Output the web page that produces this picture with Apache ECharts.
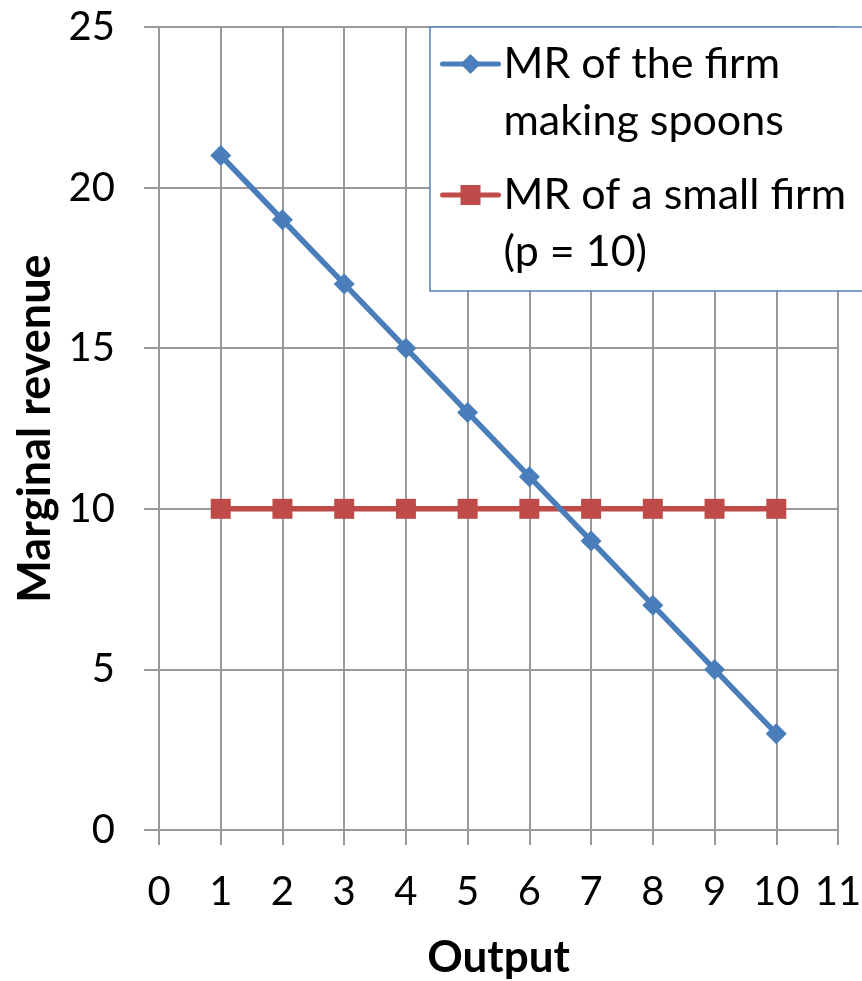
<!DOCTYPE html>
<html>
<head>
<meta charset="utf-8">
<script src="https://cdn.jsdelivr.net/npm/echarts@6/dist/echarts.min.js"></script>
<style>
html,body{margin:0;padding:0;background:#fff;}
#main{width:862px;height:981px;}
</style>
</head>
<body>
<div id="main"></div>
<script>
const outputs = [1, 2, 3, 4, 5, 6, 7, 8, 9, 10];
const mrSpoons = [21, 19, 17, 15, 13, 11, 9, 7, 5, 3];
const mrSmall = [10, 10, 10, 10, 10, 10, 10, 10, 10, 10];
const seriesNames = ['MR of the firm\nmaking spoons', 'MR of a small firm\n(p = 10)'];
const xTitle = 'Output';
const yTitle = 'Marginal revenue';

const FONT = 'Lato, Carlito, Calibri, sans-serif';
const gridColor = '#999999';
const blue = '#4A7EBB';
const red = '#BE4B48';

const chart = echarts.init(document.getElementById('main'), null, {renderer: 'canvas'});
chart.setOption({
  animation: false,
  backgroundColor: '#ffffff',
  grid: {left: 159, right: 24, top: 27, bottom: 151, containLabel: false, outerBoundsMode: 'none'},
  graphic: [{
    type: 'rect', z: 3, silent: true,
    shape: {x: 430, y: 27, width: 450, height: 264},
    style: {fill: '#ffffff', stroke: '#4F81BD', lineWidth: 1.5}
  }],
  legend: {
    orient: 'vertical',
    left: 440,
    top: -21.5,
    padding: 0,
    itemGap: -40,
    itemWidth: 56,
    itemHeight: 25,
    z: 4,
    lineStyle: {width: 5, cap: 'round'},
    formatter: function (name) { return ' \n' + name; },
    textStyle: {fontFamily: FONT, fontSize: 43, lineHeight: 57, color: '#000'},
    data: seriesNames
  },
  xAxis: {
    type: 'value', min: 0, max: 11, interval: 1,
    name: xTitle, nameLocation: 'middle', nameGap: 106,
    nameTextStyle: {fontFamily: FONT, fontWeight: 'bold', fontSize: 44, color: '#000'},
    axisLine: {show: true, onZero: false, lineStyle: {color: gridColor, width: 2}},
    axisTick: {show: true, inside: false, length: 15, lineStyle: {color: gridColor, width: 2}},
    axisLabel: {fontFamily: FONT, fontSize: 40, color: '#000', margin: 42},
    splitLine: {show: true, lineStyle: {color: gridColor, width: 2}}
  },
  yAxis: {
    type: 'value', min: 0, max: 25, interval: 5,
    name: yTitle, nameLocation: 'middle', nameGap: 101, nameRotate: 90,
    nameTextStyle: {fontFamily: FONT, fontWeight: 'bold', fontSize: 45, color: '#000'},
    axisLine: {show: true, lineStyle: {color: gridColor, width: 2}},
    axisTick: {show: true, inside: false, length: 15, lineStyle: {color: gridColor, width: 2}},
    axisLabel: {fontFamily: FONT, fontSize: 40, color: '#000', margin: 44},
    splitLine: {show: true, lineStyle: {color: gridColor, width: 2}}
  },
  series: [
    {
      name: seriesNames[1], type: 'line',
      data: outputs.map((x, i) => [x, mrSmall[i]]),
      symbol: 'rect', symbolSize: 20,
      lineStyle: {color: red, width: 5.5},
      itemStyle: {color: red},
      z: 2
    },
    {
      name: seriesNames[0], type: 'line',
      data: outputs.map((x, i) => [x, mrSpoons[i]]),
      symbol: 'diamond', symbolSize: 21,
      lineStyle: {color: blue, width: 5.5},
      itemStyle: {color: blue},
      z: 2
    }
  ]
});
</script>
</body>
</html>
